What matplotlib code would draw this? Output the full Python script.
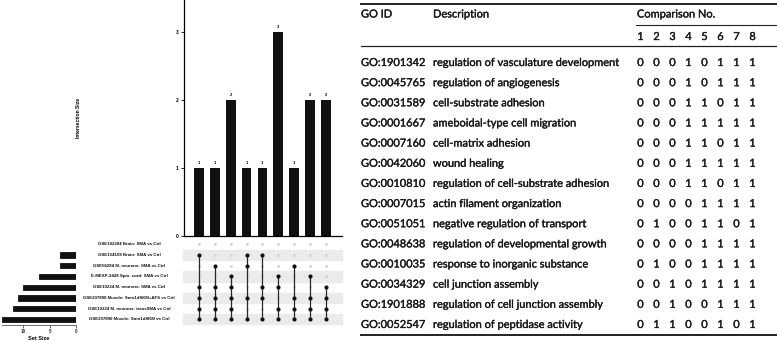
import matplotlib
matplotlib.use("Agg")
import matplotlib.pyplot as plt
import matplotlib.transforms as mtrans
import matplotlib.patheffects as pe

W, H = 777, 341

# ---- UpSet data ------------------------------------------------------------
set_names = [
    "GSE102204 Brain: SMA vs Ctrl",
    "GSE154108 Brain: SMA vs Ctrl",
    "GSE56284 M. neurons: SMA vs Ctrl",
    "E-MEXP-2428 Spin. cord: SMA vs Ctrl",
    "GSE10224 M. neurons: SMA vs Ctrl",
    "GSE207890 Muscle: Smn1dSKM+AFS vs Ctrl",
    "GSE10224 M. neurons: transSMA vs Ctrl",
    "GSE207890 Muscle: Smn1dSKM vs Ctrl",
]
set_sizes = [0, 3, 3, 7, 10, 11, 12, 14]
# member rows (index into set_names) of each intersection column
inter_members = [
    [1, 4, 5, 6, 7],
    [2, 4, 5, 6, 7],
    [3, 4, 5, 6, 7],
    [1, 2, 5, 7],
    [1, 4, 5, 7],
    [3, 4, 6, 7],
    [2, 5, 6, 7],
    [3, 5, 6, 7],
    [4, 5, 6, 7],
]
inter_sizes = [1, 1, 2, 1, 1, 3, 1, 2, 2]

# ---- GO table data ---------------------------------------------------------
go_ids = [
    "GO:1901342", "GO:0045765", "GO:0031589", "GO:0001667", "GO:0007160",
    "GO:0042060", "GO:0010810", "GO:0007015", "GO:0051051", "GO:0048638",
    "GO:0010035", "GO:0034329", "GO:1901888", "GO:0052547",
]
go_desc = [
    "regulation of vasculature development",
    "regulation of angiogenesis",
    "cell-substrate adhesion",
    "ameboidal-type cell migration",
    "cell-matrix adhesion",
    "wound healing",
    "regulation of cell-substrate adhesion",
    "actin filament organization",
    "negative regulation of transport",
    "regulation of developmental growth",
    "response to inorganic substance",
    "cell junction assembly",
    "regulation of cell junction assembly",
    "regulation of peptidase activity",
]
go_hits = [
    "00010111", "00010111", "00011011", "00011111", "00011011",
    "00011111", "00011011", "00001111", "01001101", "00001111",
    "01001111", "00101111", "00100111", "01100101",
]
comparison_no = [1, 2, 3, 4, 5, 6, 7, 8]

BAR = "#111111"
SHADE = "#ebebeb"
DOT_OFF = "#d4d4d4"
UPSET_FONT = "Liberation Sans"
TABLE_FONT = "Lato"


def box(x0, y0, x1, y1):
    return [x0 / W, 1 - y1 / H, (x1 - x0) / W, (y1 - y0) / H]


fig = plt.figure(figsize=(W / 100, H / 100), dpi=100)
fig.patch.set_facecolor("white")

ncol = len(inter_sizes)
xl = (-0.95, ncol - 1 + 1.03)
nrow = len(set_names)
yl = (nrow - 1 + 0.53, -0.5)

# intersection size bars
ax_bar = fig.add_axes(box(184, 0, 342, 236))
ax_bar.bar(range(ncol), inter_sizes, width=0.61, color=BAR)
for i, v in enumerate(inter_sizes):
    ax_bar.text(i, v + 0.04, str(v), ha="center", va="bottom", fontsize=3,
                family=UPSET_FONT, weight="bold")
ax_bar.set_xlim(*xl)
ax_bar.set_ylim(0, 3.47)
ax_bar.set_yticks([0, 1, 2, 3])
ax_bar.set_xticks([])
ax_bar.tick_params(axis="y", labelsize=3.5, length=2.5, width=0.6, pad=1.5)
for lab in ax_bar.get_yticklabels():
    lab.set_family(UPSET_FONT)
    lab.set_weight("bold")
for s in ("top", "right"):
    ax_bar.spines[s].set_visible(False)
for s in ("left", "bottom"):
    ax_bar.spines[s].set_linewidth(0.9)
ax_bar.set_ylabel("Intersection Size", fontsize=3.6, family=UPSET_FONT,
                  weight="bold")
ax_bar.yaxis.set_label_coords((81 - 184) / 158, 0.5)

# matrix
ax_mat = fig.add_axes(box(184, 239, 342, 325))
ax_mat.set_xlim(*xl)
ax_mat.set_ylim(*yl)
ax_mat.axis("off")
for r in range(nrow):
    if r % 2 == 1:
        ax_mat.axhspan(r - 0.48, r + 0.48, xmin=-0.006, xmax=1, color=SHADE,
                       zorder=0, clip_on=False)
for c, members in enumerate(inter_members):
    off = [r for r in range(nrow) if r not in members]
    ax_mat.scatter([c] * len(off), off, s=4.5, color=DOT_OFF, lw=0, zorder=2)
    ax_mat.vlines(c, min(members), max(members), color="#2a2a2a", lw=0.9, zorder=2)
    ax_mat.scatter([c] * len(members), members, s=9, color=BAR, lw=0, zorder=3)

lab_tr = mtrans.blended_transform_factory(ax_mat.transAxes, ax_mat.transData)
for r, name in enumerate(set_names):
    ax_mat.text((129 - 184) / 158, r, name, transform=lab_tr, ha="center",
                va="center", fontsize=3.2, family=UPSET_FONT, weight="bold",
                color="#111111", clip_on=False)

# set size bars
ax_set = fig.add_axes(box(2, 239, 76, 325))
ax_set.barh(range(nrow), set_sizes, height=0.5, color=BAR, edgecolor=BAR,
            linewidth=0.6)
ax_set.set_xlim(14.06, 0)
ax_set.set_ylim(*yl)
ax_set.set_yticks([])
ax_set.set_xticks([10, 5, 0])
ax_set.tick_params(axis="x", labelsize=3.3, length=2, width=0.5, pad=1,
                   colors="#333333")
for lab in ax_set.get_xticklabels():
    lab.set_family(UPSET_FONT)
    lab.set_weight("bold")
for s in ("top", "right", "left"):
    ax_set.spines[s].set_visible(False)
ax_set.spines["bottom"].set_linewidth(0.6)
ax_set.spines["bottom"].set_color("#555555")
ax_set.set_xlabel("Set Size", fontsize=4, family=UPSET_FONT, weight="bold",
                  labelpad=1.5)

# ---- table -----------------------------------------------------------------
tab = fig.add_axes([0, 0, 1, 1])
tab.set_xlim(0, W)
tab.set_ylim(H, 0)
tab.axis("off")

TXT = "#1a1a1a"
tab.plot([361, W], [4, 4], color="#222222", lw=1.4)
tab.plot([636, W], [25, 25], color="#222222", lw=0.8)
tab.plot([361, W], [46, 46], color="#222222", lw=0.9)
tab.plot([361, W], [335, 335], color="#222222", lw=1.4)

texts = []
texts.append(tab.text(361, 14, "GO ID", va="center"))
texts.append(tab.text(433, 14, "Description", va="center"))
texts.append(tab.text(637, 14, "Comparison No.", va="center"))
col_x = [640.5 + 16 * i for i in range(len(comparison_no))]
for x, n in zip(col_x, comparison_no):
    texts.append(tab.text(x, 36.5, str(n), ha="center", va="center"))

row_y = [62.5 + 20.15 * k for k in range(len(go_ids))]
probe = None
for y, gid, desc, hits in zip(row_y, go_ids, go_desc, go_hits):
    texts.append(tab.text(361, y, gid, va="center"))
    t = tab.text(433, y, desc, va="center")
    texts.append(t)
    if desc == "regulation of vasculature development":
        probe = t
    for x, h in zip(col_x, hits):
        texts.append(tab.text(x, y, h, ha="center", va="center"))

fs = 9.0
for t in texts:
    t.set_fontsize(fs)
    t.set_family(TABLE_FONT)
    t.set_color(TXT)
    t.set_path_effects([pe.withStroke(linewidth=0.25, foreground=TXT)])
fig.canvas.draw()
wpx = probe.get_window_extent().width
fs = fs * 187.0 / wpx
for t in texts:
    t.set_fontsize(fs)

fig.savefig("out.png", dpi=100, facecolor="white")
